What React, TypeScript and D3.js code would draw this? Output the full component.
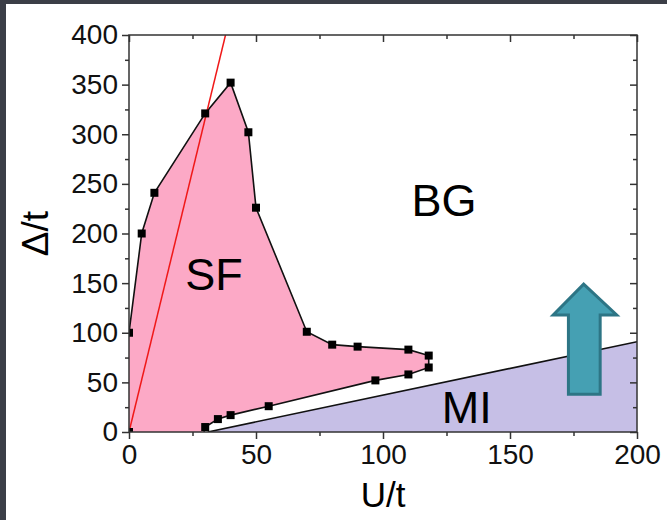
import React, { useEffect, useRef } from 'react';
import * as d3 from 'd3';

// SF (superfluid) boundary
const sfU = [0, 0, 5, 10, 30, 40, 47, 50, 70, 80, 90, 110, 118, 118, 110, 97, 55, 40, 35, 30];
const sfDelta = [0, 100, 200, 241, 321, 352, 302, 226, 101, 88, 86, 83, 77, 65, 58, 52, 26, 17, 13, 5];

// MI (Mott insulator) boundary line
const miU = [31, 200];
const miDelta = [0, 91];

// red reference line
const redU = [0, 38];
const redDelta = [0, 400];

// arrow annotation (data coords)
const arrowU = [179, 192, 185.5, 185.5, 173, 173, 167];
const arrowDelta = [149, 118, 118, 38, 38, 118, 118];

const regionLabels = ['BG', 'SF', 'MI'];
const regionU = [124, 33.5, 133];
const regionDelta = [218, 143, 9];

const xTicks = [0, 50, 100, 150, 200];
const yTicks = [0, 50, 100, 150, 200, 250, 300, 350, 400];
const xMinor = [25, 75, 125, 175];
const yMinor = [25, 75, 125, 175, 225, 275, 325, 375];

const FONT = '"Liberation Sans", Arial, sans-serif';

const App = () => {
  const svgRef = useRef(null);

  useEffect(() => {
    const width = 667;
    const height = 520;
    const margin = { top: 35, right: 30, bottom: 88, left: 129 };

    const svg = d3.select(svgRef.current);
    svg.selectAll('*').remove();
    svg.attr('width', width).attr('height', height);

    // dark slide frame
    svg.append('rect').attr('width', width).attr('height', height).attr('fill', '#3b3e47');
    svg.append('rect').attr('x', 6).attr('y', 4).attr('width', width).attr('height', height).attr('fill', '#ffffff');

    const x = d3.scaleLinear().domain([0, 200]).range([margin.left, width - margin.right]);
    const y = d3.scaleLinear().domain([0, 400]).range([height - margin.bottom, margin.top]);

    svg.append('clipPath').attr('id', 'plot-clip')
      .append('rect')
      .attr('x', x(0)).attr('y', y(400))
      .attr('width', x(200) - x(0)).attr('height', y(0) - y(400));

    const plot = svg.append('g').attr('clip-path', 'url(#plot-clip)');

    // MI region
    const miPts = miU.map((u, i) => [x(u), y(miDelta[i])]);
    miPts.push([x(200), y(0)]);
    plot.append('path')
      .attr('d', d3.line()(miPts) + 'Z')
      .attr('fill', '#c6bfe6');
    plot.append('path')
      .attr('d', d3.line()(miU.map((u, i) => [x(u), y(miDelta[i])])))
      .attr('fill', 'none').attr('stroke', '#111').attr('stroke-width', 1.6);

    // SF region
    const sfPts = sfU.map((u, i) => [x(u), y(sfDelta[i])]);
    const sfFill = [...sfPts, [x(29), y(0)]];
    plot.append('path')
      .attr('d', d3.line()(sfFill) + 'Z')
      .attr('fill', '#fca9c6');
    plot.append('path')
      .attr('d', d3.line()([...sfPts.slice(1), [x(29.5), y(0)]]))
      .attr('fill', 'none').attr('stroke', '#111').attr('stroke-width', 1.6);

    // red line
    plot.append('path')
      .attr('d', d3.line()(redU.map((u, i) => [x(u), y(redDelta[i])])))
      .attr('fill', 'none').attr('stroke', '#f01818').attr('stroke-width', 1.5);

    // square markers
    plot.selectAll('.pt')
      .data(sfU.map((u, i) => ({ u, d: sfDelta[i] })))
      .enter()
      .append('rect')
      .attr('x', d => x(d.u) - 4)
      .attr('y', d => y(d.d) - 4)
      .attr('width', 8)
      .attr('height', 8)
      .attr('fill', '#000');

    // arrow
    svg.append('path')
      .attr('d', d3.line()(arrowU.map((u, i) => [x(u), y(arrowDelta[i])])) + 'Z')
      .attr('fill', '#45a0b3')
      .attr('stroke', '#2d7585')
      .attr('stroke-width', 3)
      .attr('stroke-linejoin', 'miter');

    // region labels
    svg.selectAll('.region')
      .data(regionLabels)
      .enter()
      .append('text')
      .attr('x', (d, i) => x(regionU[i]))
      .attr('y', (d, i) => y(regionDelta[i]))
      .attr('text-anchor', 'middle')
      .attr('font-family', FONT)
      .attr('font-size', 45)
      .attr('fill', '#000')
      .text(d => d);

    // axes
    const styleAxis = (g, labels) => {
      g.select('.domain').remove();
      g.selectAll('line').attr('stroke', '#333').attr('stroke-width', 1.5);
      g.selectAll('text')
        .attr('font-family', FONT)
        .attr('font-size', labels ? 28 : 0)
        .attr('fill', '#111');
      if (!labels) g.selectAll('text').remove();
    };

    svg.append('g').attr('transform', `translate(${x(0)},0)`)
      .call(d3.axisLeft(y).tickValues(yTicks).tickSize(7).tickPadding(4))
      .call(g => styleAxis(g, true));
    svg.append('g').attr('transform', `translate(${x(0)},0)`)
      .call(d3.axisLeft(y).tickValues(yMinor).tickSize(4))
      .call(g => styleAxis(g, false));

    svg.append('g').attr('transform', `translate(0,${y(0)})`)
      .call(d3.axisBottom(x).tickValues(xTicks).tickSize(7).tickPadding(5))
      .call(g => styleAxis(g, true));
    svg.append('g').attr('transform', `translate(0,${y(0)})`)
      .call(d3.axisBottom(x).tickValues(xMinor).tickSize(4))
      .call(g => styleAxis(g, false));

    // mirrored ticks on top (inward) and right (inward)
    svg.append('g').attr('transform', `translate(0,${y(400)})`)
      .call(d3.axisBottom(x).tickValues(xTicks).tickSize(7))
      .call(g => styleAxis(g, false));
    svg.append('g').attr('transform', `translate(0,${y(400)})`)
      .call(d3.axisBottom(x).tickValues(xMinor).tickSize(4))
      .call(g => styleAxis(g, false));
    svg.append('g').attr('transform', `translate(${x(200)},0)`)
      .call(d3.axisLeft(y).tickValues(yTicks).tickSize(7))
      .call(g => styleAxis(g, false));
    svg.append('g').attr('transform', `translate(${x(200)},0)`)
      .call(d3.axisLeft(y).tickValues(yMinor).tickSize(4))
      .call(g => styleAxis(g, false));

    // frame
    svg.append('rect')
      .attr('x', x(0)).attr('y', y(400))
      .attr('width', x(200) - x(0)).attr('height', y(0) - y(400))
      .attr('fill', 'none').attr('stroke', '#333').attr('stroke-width', 1.5);

    // axis titles
    svg.append('text')
      .attr('x', (x(0) + x(200)) / 2)
      .attr('y', 507)
      .attr('text-anchor', 'middle')
      .attr('font-family', FONT)
      .attr('font-size', 35)
      .attr('fill', '#000')
      .text('U/t');

    svg.append('text')
      .attr('transform', `translate(48,${(y(0) + y(400)) / 2}) rotate(-90)`)
      .attr('text-anchor', 'middle')
      .attr('font-family', FONT)
      .attr('font-size', 37)
      .attr('fill', '#000')
      .text('Δ/t');
  }, []);

  return (
    <svg ref={svgRef} style={{ position: 'absolute', left: 0, top: 0 }} />
  );
};

export default App;
